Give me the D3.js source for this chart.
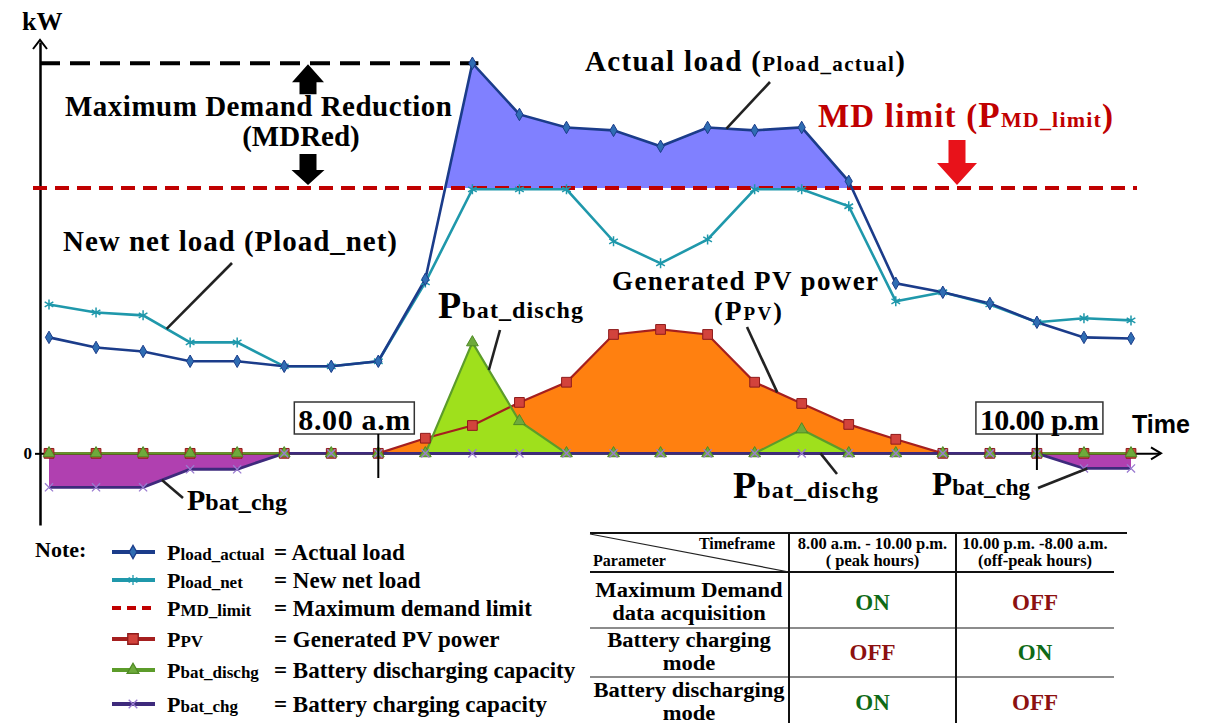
<!DOCTYPE html>
<html>
<head>
<meta charset="utf-8">
<script src="https://cdn.jsdelivr.net/npm/d3@7"></script>
<style>
body{margin:0;background:#fff;}
svg{display:block;}
text{font-family:'Liberation Serif','Times New Roman',serif;font-weight:bold;}
</style>
</head>
<body>
<script>
// hourly samples (hour of day), kW
var hours=[1,2,3,4,5,6,7,8,9,10,11,12,13,14,15,16,17,18,19,20,21,22,23,24];
var actualLoad=[43.7,39.9,38.4,34.7,34.7,32.8,32.8,34.7,65.6,147,127.7,122.8,121.7,115.7,122.8,121.7,122.8,102.5,64.1,60.7,56.5,49.4,43.7,43.3];
var netLoad=[56.1,53.1,52.0,41.8,41.8,32.8,32.8,34.7,64.4,99.5,99.5,99.5,79.9,71.6,80.6,99.5,99.5,93.1,57.3,60.7,56.1,49.4,50.9,50.1];
var pvPower=[0,0,0,0,0,0,0,0,5.7,10.5,19.2,26.8,44.8,46.7,44.8,26.8,18.8,10.9,5.3,0,0,0,0,0];
var batDischarge=[0,0,0,0,0,0,0,0,0,41.8,12.1,0,0,0,0,0,9.0,0,0,0,0,0,0,0];
var batCharge=[-12.8,-12.8,-12.8,-6.0,-6.0,0,0,0,0,0,0,0,0,0,0,0,0,0,0,0,0,0,-5.7,-5.7];
var mdLimit=100;
var markHours=[8,22];
var markLabels=['8.00 a.m','10.00 p.m'];

var legendSub=[['P','load_actual'],['P','load_net'],['P','MD_limit'],['P','PV'],['P','bat_dischg'],['P','bat_chg']];
var legendNames=['Actual load','New net load','Maximum demand limit','Generated PV power','Battery discharging capacity','Battery charging capacity'];

var tableHead=[['8.00 a.m. - 10.00 p.m.','( peak hours)'],['10.00 p.m. -8.00 a.m.','(off-peak hours)']];
var tableRows=[['Maximum Demand','data acquisition'],['Battery charging','mode'],['Battery discharging','mode']];
var tableStates=[['ON','OFF'],['OFF','ON'],['ON','OFF']];

var C={actual:'#1b3c8a',actualMk:'#2f6db3',net:'#1f98ab',md:'#c00000',pv:'#a51f1f',pvMk:'#d2433c',
  orange:'#ff8010',dis:'#5c9c2a',disFill:'#9fe01c',disMk:'#6eaa3c',chg:'#3e2a7c',chgFill:'#b040b0',chgMk:'#9a7bd0',blue:'#8080ff'};

var svg=d3.select('body').append('svg').attr('width',1218).attr('height',723);

var x=d3.scaleLinear().domain([1,24]).range([49,1131]);
var y=d3.scaleLinear().domain([-27,155]).range([525,42]);
var xAxisScale=d3.scaleLinear().domain([x.invert(40),x.invert(1160)]).range([40,1160]);

function pts(arr){return hours.map(function(h,i){return {h:h,v:arr[i]};});}
function onLine(arr,h){
  var i=Math.floor(h)-1,t=h-Math.floor(h);
  var v=arr[i]+(arr[Math.min(i+1,arr.length-1)]-arr[i])*t;
  return [x(h),y(v)];
}

var lineGen=d3.line().x(function(d){return x(d.h);}).y(function(d){return y(d.v);});
var areaGen=d3.area().x(function(d){return x(d.h);}).y0(y(0)).y1(function(d){return y(d.v);});

// clip for part of actual load above MD limit
svg.append('clipPath').attr('id','aboveMD')
  .append('rect').attr('x',0).attr('y',0).attr('width',1218).attr('height',y(mdLimit));

// filled areas
svg.append('path').datum(pts(pvPower)).attr('d',areaGen).attr('fill',C.orange);
svg.append('path').datum(pts(batDischarge)).attr('d',areaGen).attr('fill',C.disFill);
svg.append('path').datum(pts(batCharge)).attr('d',areaGen).attr('fill',C.chgFill);
svg.append('path').datum(pts(actualLoad))
  .attr('d',d3.area().x(function(d){return x(d.h);}).y0(y(mdLimit)).y1(function(d){return y(d.v);}))
  .attr('fill',C.blue).attr('clip-path','url(#aboveMD)');

// axes
var yAxis=d3.axisLeft(y).tickValues([0]).tickFormat(d3.format('d')).tickSize(5).tickSizeOuter(0).tickPadding(3);
var gy=svg.append('g').attr('transform','translate(40,0)').call(yAxis);
gy.select('.domain').attr('stroke','#000').attr('stroke-width',2.5);
gy.selectAll('.tick line').attr('stroke','#000').attr('stroke-width',2);
gy.selectAll('.tick text').attr('font-size',17).attr('fill','#000')
  .style('font-family',"'Liberation Serif',serif").style('font-weight','bold');

var xAxis=d3.axisBottom(xAxisScale).tickValues([]).tickSizeOuter(0);
var gx=svg.append('g').attr('transform','translate(0,'+y(0)+')').call(xAxis);
gx.select('.domain').attr('stroke','#000').attr('stroke-width',2);

svg.append('path').attr('d','M33,49 L40,40 L47,49').attr('fill','none').attr('stroke','#000').attr('stroke-width',2);
svg.append('path').attr('d','M1151,'+(y(0)-6)+' L1161,'+y(0)+' L1151,'+(y(0)+6))
  .attr('fill','none').attr('stroke','#000').attr('stroke-width',2);

// series lines
svg.append('path').datum(pts(pvPower)).attr('d',lineGen).attr('fill','none').attr('stroke',C.pv).attr('stroke-width',2.2);
svg.append('path').datum(pts(batDischarge)).attr('d',lineGen).attr('fill','none').attr('stroke',C.dis).attr('stroke-width',2.2);
svg.append('path').datum(pts(batCharge)).attr('d',lineGen).attr('fill','none').attr('stroke',C.chg).attr('stroke-width',2.8);

// MD limit and MD reduction lines
svg.append('line').attr('x1',33).attr('x2',1137).attr('y1',y(mdLimit)).attr('y2',y(mdLimit))
  .attr('stroke',C.md).attr('stroke-width',4).attr('stroke-dasharray','14,8');
var peakIdx=actualLoad.indexOf(d3.max(actualLoad));
svg.append('line').attr('x1',40).attr('x2',x(hours[peakIdx])+6)
  .attr('y1',y(d3.max(actualLoad))).attr('y2',y(d3.max(actualLoad)))
  .attr('stroke','#000').attr('stroke-width',4).attr('stroke-dasharray','20,10');

svg.append('path').datum(pts(netLoad)).attr('d',lineGen).attr('fill','none').attr('stroke',C.net).attr('stroke-width',2.6);
svg.append('path').datum(pts(actualLoad)).attr('d',lineGen).attr('fill','none').attr('stroke',C.actual).attr('stroke-width',2.6);

// markers
function markers(arr,type,size,fill,stroke,sw){
  svg.append('g').selectAll('path').data(pts(arr)).enter().append('path')
    .attr('transform',function(d){return 'translate('+x(d.h)+','+y(d.v)+')';})
    .attr('d',d3.symbol().type(type).size(size))
    .attr('fill',fill).attr('stroke',stroke).attr('stroke-width',sw);
}
var symX=d3.symbolTimes||d3.symbolX||d3.symbolCross;
var symAst=d3.symbolAsterisk||d3.symbolCross;
markers(pvPower,d3.symbolSquare,95,C.pvMk,'#8e1b1b',1);
markers(batDischarge,d3.symbolTriangle,60,C.disMk,'#4f8a25',1);
markers(batCharge,symX,45,'none',C.chgMk,1.3);
markers(netLoad,symAst,70,'none',C.net,1.5);
markers(actualLoad,d3.symbolDiamond,45,C.actualMk,C.actual,1);

// arrows for MD reduction and MD limit
function arrow(cx,tipY,dir,headW,headH,shaftW,shaftL,fill){
  var b=tipY-dir*headH,e=b-dir*shaftL;
  var p='M'+cx+','+tipY+' L'+(cx-headW/2)+','+b+' L'+(cx-shaftW/2)+','+b+' L'+(cx-shaftW/2)+','+e+
    ' L'+(cx+shaftW/2)+','+e+' L'+(cx+shaftW/2)+','+b+' L'+(cx+headW/2)+','+b+' Z';
  svg.append('path').attr('d',p).attr('fill',fill);
}
arrow(308,y(d3.max(actualLoad))+1,-1,32,18,17,12,'#000');
arrow(308,y(mdLimit)-3,1,33,15,17,16,'#000');
arrow(957,y(mdLimit)-3,1,40,22,17,23,'#e8121a');

// leader lines
function leader(p,q){
  svg.append('line').attr('x1',p[0]).attr('y1',p[1]).attr('x2',q[0]).attr('y2',q[1])
    .attr('stroke','#222').attr('stroke-width',2.6);
}
leader(onLine(actualLoad,15.4),[770,82]);
leader(onLine(netLoad,3.5),[232,263]);
leader(onLine(batDischarge,10.35),[500,330]);
leader(onLine(pvPower,16.48),[747,327]);
leader([x(17.4),y(0)],[837,474]);
leader(onLine(batCharge,3.4),[183,498]);
leader(onLine(batCharge,23.07),[1038,488]);

// labels built from parts [text,size]
function label(xp,yb,parts,opt){
  opt=opt||{};
  var t=svg.append('text').attr('x',xp).attr('y',yb).attr('fill',opt.fill||'#000');
  if(opt.len) t.attr('textLength',opt.len);
  if(opt.anchor) t.attr('text-anchor',opt.anchor);
  parts.forEach(function(p){t.append('tspan').attr('font-size',p[1]).text(p[0]);});
  return t;
}
label(22,30,[['kW',26]]);
label(65,116,[['Maximum Demand Reduction',29]],{len:387});
label(301,146,[['(MDRed)',29]],{anchor:'middle'});
label(585,71,[['Actual load ',29],['(',29],['Pload_actual',21],[')',29]],{len:320});
label(818,127,[['MD limit ',33],['(',33],['P',35],['MD_limit',22],[')',33]],{len:295,fill:'#c00000'});
label(63,251,[['New net load (Pload_net)',29]],{len:334});
label(438,318,[['P',38],['bat_dischg',24]],{len:145});
label(612,290,[['Generated PV power',27]],{len:266});
label(714,320,[['(',26],['P',27],['PV',19],[')',26]],{len:68});
label(733,498,[['P',38],['bat_dischg',24]],{len:145});
label(187,510,[['P',30],['bat_chg',24]],{len:100});
label(932,495,[['P',33],['bat_chg',23]],{len:98});
svg.append('text').attr('x',1132).attr('y',433).attr('font-size',25)
  .style('font-family',"'Liberation Sans',Arial,sans-serif").text('Time');

// 8.00 a.m / 10.00 p.m markers
var boxW=[120,127];
markHours.forEach(function(h,i){
  var cx=x(h);
  var left=i===0?cx-84:cx-61;
  svg.append('rect').attr('x',left).attr('y',402).attr('width',boxW[i]).attr('height',32)
    .attr('fill','#fff').attr('stroke','#333').attr('stroke-width',1.5);
  svg.append('text').attr('x',left+boxW[i]/2).attr('y',430).attr('text-anchor','middle')
    .attr('font-size',30).attr('textLength',boxW[i]-8).text(markLabels[i]);
  svg.append('line').attr('x1',cx).attr('x2',cx).attr('y1',434).attr('y2',i===0?478:470)
    .attr('stroke','#000').attr('stroke-width',2);
});

// legend
label(35,557,[['Note:',22]]);
var legY=[560,588,616,647,678,712];
var legStyle=[
  {c:C.actual,sym:d3.symbolDiamond,f:C.actualMk,s:50},
  {c:C.net,sym:symAst,f:'none',s:70,mk:C.net},
  {c:C.md,dash:'9,6'},
  {c:C.pv,sym:d3.symbolSquare,f:C.pvMk,s:110,mk:'#8e1b1b'},
  {c:C.dis,sym:d3.symbolTriangle,f:C.disMk,s:60,mk:'#4f8a25'},
  {c:C.chg,sym:symX,f:'none',s:50,mk:C.chgMk}
];
legendNames.forEach(function(name,i){
  var ly=legY[i]-8,st=legStyle[i];
  svg.append('line').attr('x1',112).attr('x2',155).attr('y1',ly).attr('y2',ly)
    .attr('stroke',st.c).attr('stroke-width',4).attr('stroke-dasharray',st.dash||null);
  if(st.sym){
    svg.append('path').attr('transform','translate(133,'+ly+')')
      .attr('d',d3.symbol().type(st.sym).size(st.s))
      .attr('fill',st.f).attr('stroke',st.mk||st.c).attr('stroke-width',1.3);
  }
  label(167,legY[i],[[legendSub[i][0],22],[legendSub[i][1],17]]);
  label(274,legY[i],[['= '+name,23]]);
});

// mode table
var tX=[590,789,956,1114],tTop=533,tHead=572;
svg.append('line').attr('x1',590).attr('x2',1127).attr('y1',tTop).attr('y2',tTop).attr('stroke','#111').attr('stroke-width',2);
svg.append('line').attr('x1',590).attr('x2',1114).attr('y1',tHead).attr('y2',tHead).attr('stroke','#111').attr('stroke-width',2);
svg.append('line').attr('x1',590).attr('x2',789).attr('y1',tTop+1).attr('y2',tHead).attr('stroke','#222').attr('stroke-width',1.2);
[628,677].forEach(function(v){
  svg.append('line').attr('x1',590).attr('x2',1114).attr('y1',v).attr('y2',v).attr('stroke','#666').attr('stroke-width',1.5);
});
[789,956].forEach(function(v){
  svg.append('line').attr('x1',v).attr('x2',v).attr('y1',tTop).attr('y2',723).attr('stroke','#111').attr('stroke-width',2);
});
svg.append('text').attr('x',775).attr('y',549).attr('text-anchor','end').attr('font-size',16).text('Timeframe');
svg.append('text').attr('x',593).attr('y',566).attr('font-size',16).text('Parameter');
tableHead.forEach(function(h,j){
  var cx=(tX[j+1]+tX[j+2])/2;
  svg.append('text').attr('x',cx).attr('y',549).attr('text-anchor','middle').attr('font-size',16.5).text(h[0]);
  svg.append('text').attr('x',cx).attr('y',566).attr('text-anchor','middle').attr('font-size',16.5).text(h[1]);
});
var rowBase=[597,647,697];
tableRows.forEach(function(r,i){
  var b=rowBase[i];
  [0,1].forEach(function(k){
    var t=svg.append('text').attr('x',689).attr('y',b+k*23).attr('text-anchor','middle')
      .attr('font-size',20.5).text(r[k]);
    var w=t.node().getComputedTextLength();
    t.attr('textLength',Math.min(w*1.1,196)).attr('lengthAdjust','spacingAndGlyphs');
  });
  tableStates[i].forEach(function(s,j){
    svg.append('text').attr('x',(tX[j+1]+tX[j+2])/2).attr('y',b+13).attr('text-anchor','middle')
      .attr('font-size',23).attr('fill',s==='ON'?'#0e6a16':'#8c1010').text(s);
  });
});
</script>
</body>
</html>
